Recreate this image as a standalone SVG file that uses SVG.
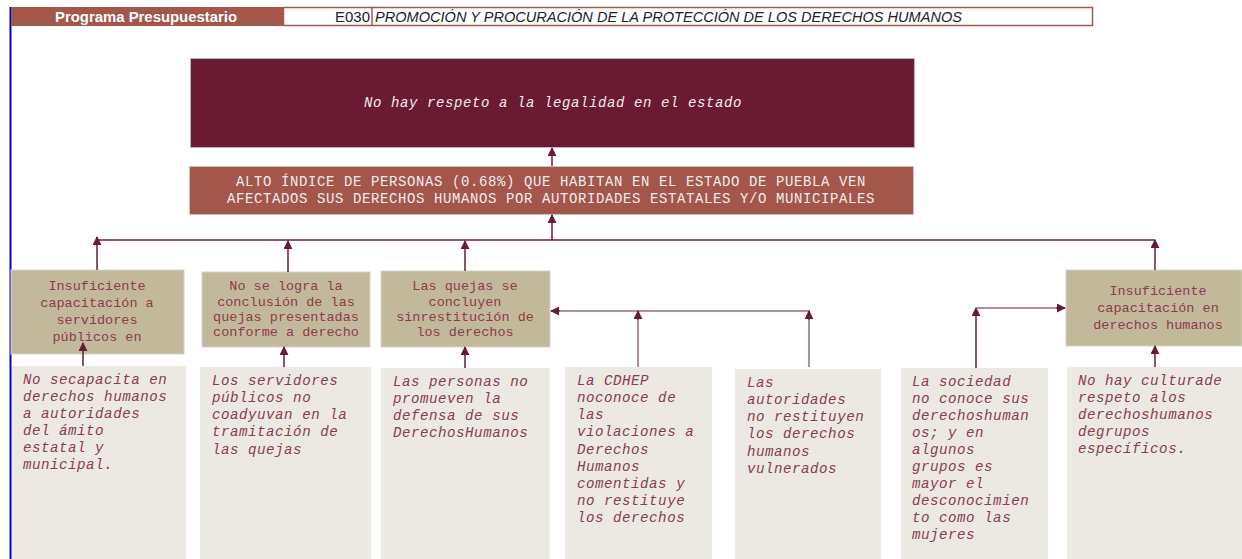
<svg xmlns="http://www.w3.org/2000/svg" width="1242" height="559" viewBox="0 0 1242 559">
<defs>
<style>
.hdr{font-family:"Liberation Sans",Arial,sans-serif;font-size:14px}
.mono{font-family:"Liberation Mono","Courier New",monospace}
.effect{fill:#6a1b33;stroke:#bdb6b6;stroke-width:1}
.prob{fill:#a4564b;stroke:#c9c4c4;stroke-width:1}
.cause{fill:#c2b99a;stroke:#d6d2c8;stroke-width:1}
.sub{fill:#ece9e3}
.tw{fill:#f2ecec;font-size:14px;letter-spacing:0.6px}
.tc{fill:#8c3b4c;font-size:13.5px;text-anchor:middle}
.tb{fill:#8a3c50;font-size:14.2px;letter-spacing:0.5px;font-style:italic}
.ln{stroke:#6a1b33;stroke-width:1.5;fill:none}
.ln2{stroke:#a0667a;stroke-width:1.5;fill:none}
</style>
<marker id="ah" viewBox="0 0 10 10" refX="9" refY="5" markerWidth="9" markerHeight="9" markerUnits="userSpaceOnUse" orient="auto">
<path d="M0,0 L10,5 L0,10 z" fill="#6a1b33"/>
</marker>
</defs>
<rect width="1242" height="559" fill="#ffffff"/>
<line x1="10.5" y1="7" x2="10.5" y2="559" stroke="#0000d0" stroke-width="2"/>
<g id="header">
<rect x="11" y="7" width="272" height="19" fill="#a4564b"/>
<text x="55" y="21.5" class="hdr" fill="#ffffff" font-weight="bold" textLength="182" lengthAdjust="spacingAndGlyphs">Programa Presupuestario</text>
<rect x="283.5" y="7.5" width="809" height="18" fill="#ffffff" stroke="#a4564b" stroke-width="1.5"/>
<line x1="372" y1="7.5" x2="372" y2="25.5" stroke="#a4564b" stroke-width="1.5"/>
<text x="335" y="21.5" class="hdr" fill="#222" textLength="35" lengthAdjust="spacingAndGlyphs">E030</text>
<text x="375" y="21.5" class="hdr" fill="#222" font-style="italic" textLength="587" lengthAdjust="spacingAndGlyphs">PROMOCIÓN Y PROCURACIÓN DE LA PROTECCIÓN DE LOS DERECHOS HUMANOS</text>
</g>
<g id="effect">
<rect class="effect" x="190.5" y="58.5" width="724" height="89"/>
<text class="mono tw" x="553" y="107" text-anchor="middle" font-style="italic">No hay respeto a la legalidad en el estado</text>
</g>
<g id="problem">
<rect class="prob" x="189.5" y="166.5" width="724" height="48"/>
<text class="mono tw" x="551" y="186" text-anchor="middle">ALTO ÍNDICE DE PERSONAS (0.68%) QUE HABITAN EN EL ESTADO DE PUEBLA VEN</text>
<text class="mono tw" x="551" y="203" text-anchor="middle">AFECTADOS SUS DERECHOS HUMANOS POR AUTORIDADES ESTATALES Y/O MUNICIPALES</text>
</g>
<g id="cause1">
<rect class="cause" x="11" y="270" width="173" height="84"/>
<text class="mono tc" x="97"><tspan x="97" y="290">Insuficiente</tspan><tspan x="97" y="307">capacitación a</tspan><tspan x="97" y="324">servidores</tspan><tspan x="97" y="341">públicos en</tspan></text>
</g>
<g id="cause2">
<rect class="cause" x="202" y="272" width="168" height="75"/>
<text class="mono tc" x="286"><tspan x="286" y="290">No se logra la</tspan><tspan x="286" y="306">conclusión de las</tspan><tspan x="286" y="321">quejas presentadas</tspan><tspan x="286" y="336">conforme a derecho</tspan></text>
</g>
<g id="cause3">
<rect class="cause" x="381" y="271" width="169" height="76"/>
<text class="mono tc" x="465"><tspan x="465" y="290">Las quejas se</tspan><tspan x="465" y="306">concluyen</tspan><tspan x="465" y="321">sinrestitución de</tspan><tspan x="465" y="336">los derechos</tspan></text>
</g>
<g id="cause4">
<rect class="cause" x="1066" y="270" width="176" height="76"/>
<text class="mono tc" x="1158"><tspan x="1158" y="295">Insuficiente</tspan><tspan x="1158" y="312">capacitación en</tspan><tspan x="1158" y="329">derechos humanos</tspan></text>
</g>
<g id="sub1">
<rect class="sub" x="12" y="366" width="174" height="193"/>
<text class="mono tb"><tspan x="23" y="384">No secapacita en</tspan><tspan x="23" y="401">derechos humanos</tspan><tspan x="23" y="418">a autoridades</tspan><tspan x="23" y="435">del ámito</tspan><tspan x="23" y="452">estatal y</tspan><tspan x="23" y="469">municipal.</tspan></text>
</g>
<g id="sub2">
<rect class="sub" x="200" y="367" width="171" height="192"/>
<text class="mono tb"><tspan x="212" y="385">Los servidores</tspan><tspan x="212" y="402">públicos no</tspan><tspan x="212" y="419">coadyuvan en la</tspan><tspan x="212" y="436">tramitación de</tspan><tspan x="212" y="454">las quejas</tspan></text>
</g>
<g id="sub3">
<rect class="sub" x="381" y="368" width="169" height="191"/>
<text class="mono tb"><tspan x="393" y="386">Las personas no</tspan><tspan x="393" y="403">promueven la</tspan><tspan x="393" y="420">defensa de sus</tspan><tspan x="393" y="437">DerechosHumanos</tspan></text>
</g>
<g id="sub4">
<rect class="sub" x="565" y="367" width="147" height="192"/>
<text class="mono tb"><tspan x="577" y="385">La CDHEP</tspan><tspan x="577" y="402">noconoce de</tspan><tspan x="577" y="419">las</tspan><tspan x="577" y="436">violaciones a</tspan><tspan x="577" y="454">Derechos</tspan><tspan x="577" y="471">Humanos</tspan><tspan x="577" y="488">comentidas y</tspan><tspan x="577" y="505">no restituye</tspan><tspan x="577" y="522">los derechos</tspan></text>
</g>
<g id="sub5">
<rect class="sub" x="735" y="369" width="146" height="190"/>
<text class="mono tb"><tspan x="747" y="387">Las</tspan><tspan x="747" y="404">autoridades</tspan><tspan x="747" y="421">no restituyen</tspan><tspan x="747" y="438">los derechos</tspan><tspan x="747" y="456">humanos</tspan><tspan x="747" y="473">vulnerados</tspan></text>
</g>
<g id="sub6">
<rect class="sub" x="901" y="368" width="147" height="191"/>
<text class="mono tb"><tspan x="912" y="386">La sociedad</tspan><tspan x="912" y="403">no conoce sus</tspan><tspan x="912" y="420">derechoshuman</tspan><tspan x="912" y="437">os; y en</tspan><tspan x="912" y="454">algunos</tspan><tspan x="912" y="471">grupos es</tspan><tspan x="912" y="488">mayor el</tspan><tspan x="912" y="505">desconocimien</tspan><tspan x="912" y="522">to como las</tspan><tspan x="912" y="539">mujeres</tspan></text>
</g>
<g id="sub7">
<rect class="sub" x="1067" y="367" width="175" height="192"/>
<text class="mono tb"><tspan x="1078" y="385">No hay culturade</tspan><tspan x="1078" y="402">respeto alos</tspan><tspan x="1078" y="419">derechoshumanos</tspan><tspan x="1078" y="436">degrupos</tspan><tspan x="1078" y="453">específicos.</tspan></text>
</g>
<g id="connectors">
<line class="ln" x1="552" y1="166" x2="552" y2="148" marker-end="url(#ah)"/>
<line class="ln" x1="552" y1="240" x2="552" y2="215" marker-end="url(#ah)"/>
<line class="ln" x1="97" y1="240" x2="1155" y2="240"/>
<line class="ln" x1="97" y1="270" x2="97" y2="237" marker-end="url(#ah)"/>
<line class="ln" x1="288" y1="272" x2="288" y2="241" marker-end="url(#ah)"/>
<line class="ln" x1="465" y1="271" x2="465" y2="241" marker-end="url(#ah)"/>
<line class="ln" x1="1155" y1="270" x2="1155" y2="240" marker-end="url(#ah)"/>
<line class="ln" x1="83" y1="366" x2="83" y2="343" marker-end="url(#ah)"/>
<line class="ln" x1="284" y1="367" x2="284" y2="347" marker-end="url(#ah)"/>
<line class="ln" x1="465" y1="368" x2="465" y2="347" marker-end="url(#ah)"/>
<line class="ln2" x1="810" y1="311" x2="560" y2="311"/>
<line class="ln" x1="560" y1="311" x2="551" y2="311" marker-end="url(#ah)"/>
<line class="ln2" x1="638" y1="367" x2="638" y2="320"/>
<line class="ln" x1="638" y1="320" x2="638" y2="311" marker-end="url(#ah)"/>
<line class="ln2" x1="809" y1="367" x2="809" y2="320"/>
<line class="ln" x1="809" y1="320" x2="809" y2="311" marker-end="url(#ah)"/>
<line class="ln" x1="976" y1="368" x2="976" y2="308" marker-end="url(#ah)"/>
<line class="ln2" x1="976" y1="308" x2="1056" y2="308"/>
<line class="ln" x1="1056" y1="308" x2="1065" y2="308" marker-end="url(#ah)"/>
<line class="ln" x1="1155" y1="367" x2="1155" y2="346" marker-end="url(#ah)"/>
</g>
</svg>
